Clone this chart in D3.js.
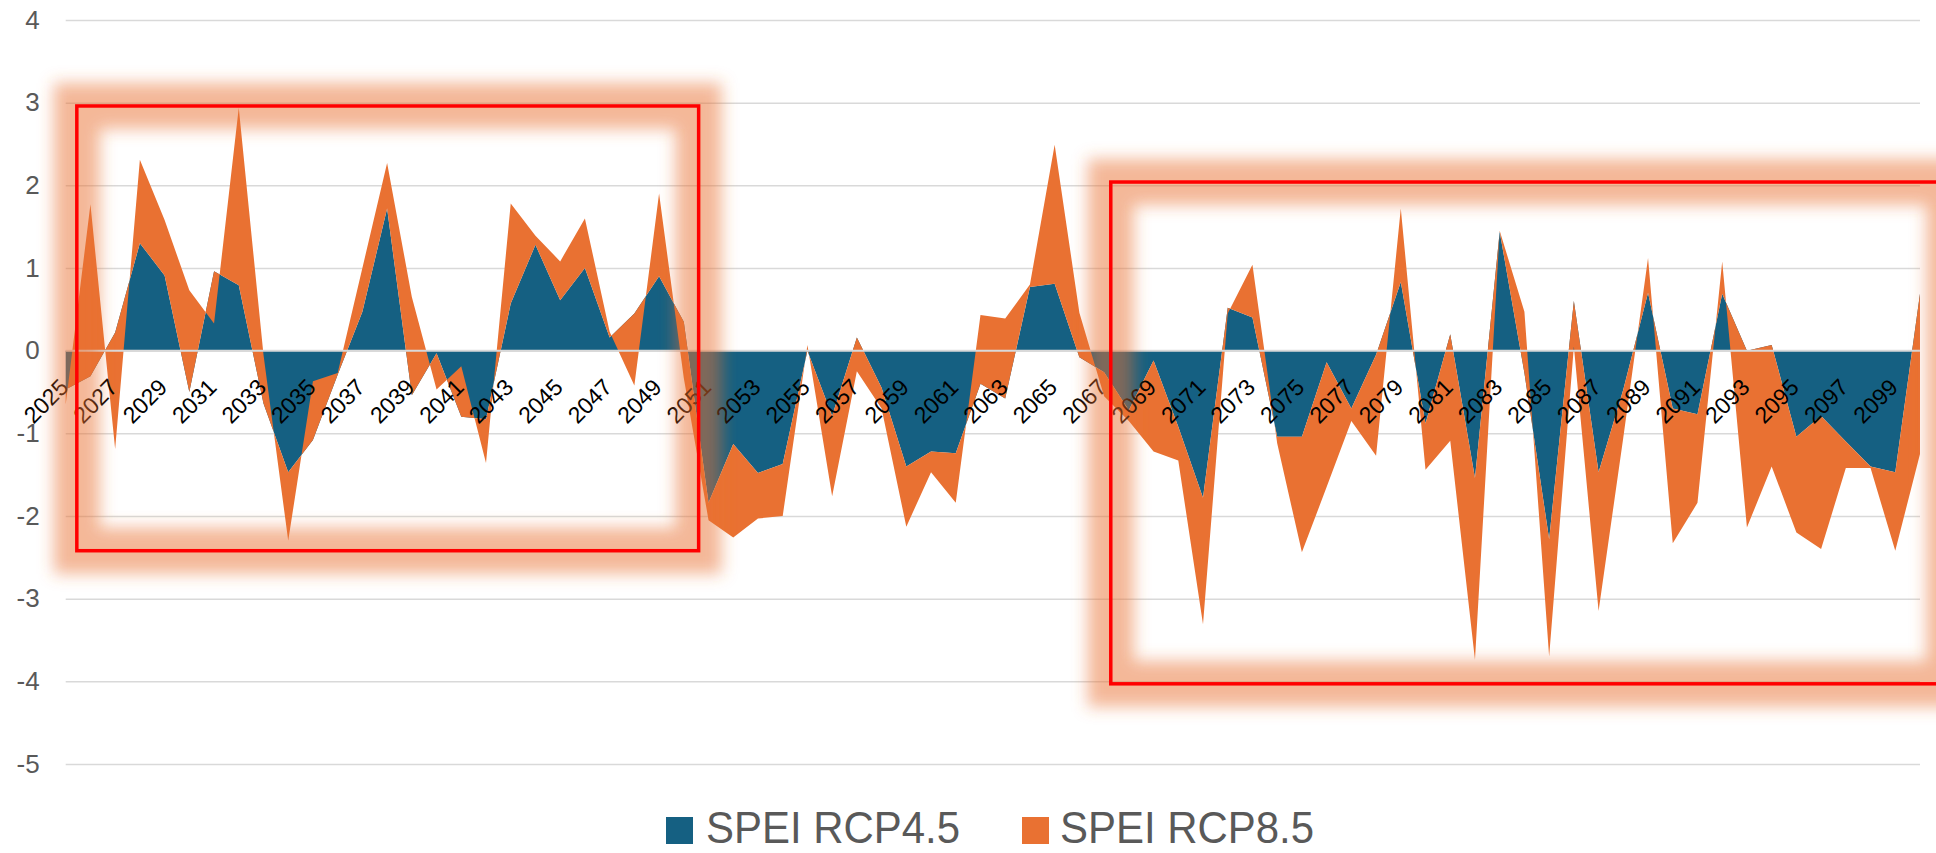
<!DOCTYPE html>
<html>
<head>
<meta charset="utf-8">
<script src="https://cdn.jsdelivr.net/npm/d3@7"></script>
<style>
  html, body { margin: 0; padding: 0; background: #ffffff; }
  svg { display: block; }
</style>
</head>
<body>
<svg id="chart" width="1936" height="853"></svg>
<script>
// Years on the category axis
const years = d3.range(2025, 2101);

// SPEI under RCP4.5 (first stacked series)
const rcp45 = [
  -0.47, -0.31, 0.22, 1.30, 0.91, -0.50, 0.96, 0.79, -0.64, -1.47,
  -1.08, -0.29, 0.47, 1.72, -0.54, -0.03, -0.80, -0.83, 0.57, 1.28,
  0.61, 1.00, 0.16, 0.45, 0.90, 0.35, -1.84, -1.13, -1.48, -1.37,
  0.00, -0.79, 0.16, -0.45, -1.40, -1.22, -1.24, -0.40, -0.58, 0.77,
  0.81, -0.08, -0.26, -0.72, -0.12, -0.92, -1.78, 0.52, 0.40, -1.04,
  -1.04, -0.14, -0.70, -0.05, 0.83, -0.88, 0.20, -1.54, 1.44, -0.27,
  -2.28, 0.60, -1.47, -0.47, 0.70, -0.70, -0.77, 0.69, 0.00, 0.07,
  -1.04, -0.79, -1.10, -1.40, -1.47, 0.69
];

// SPEI under RCP8.5 (second stacked series)
const rcp85 = [
  -0.18, 2.08, -1.41, 1.01, 0.67, 1.23, -0.63, 2.15, 0.59, -0.83,
  0.71, 0.02, 0.53, 0.55, 1.19, -0.44, 0.61, -0.53, 1.21, 0.11,
  0.47, 0.60, 0.07, -0.87, 1.00, -0.68, -0.21, -1.13, -0.55, -0.63,
  0.07, -0.97, -0.41, -0.25, -0.73, -0.25, -0.60, 0.83, 0.97, 0.03,
  1.68, 0.54, -0.29, -0.13, -1.10, -0.41, -1.53, -0.07, 0.64, -0.08,
  -1.40, -1.51, -0.15, -1.22, 0.89, -0.56, -1.29, -2.20, 0.01, 0.74,
  -1.42, -0.55, -1.68, -0.58, 0.42, -1.63, -1.07, 0.39, -2.14, -1.47,
  -1.16, -1.61, -0.32, -0.02, -0.95, -1.94
];

// Value axis ticks and labelled years
const yTicks = [4, 3, 2, 1, 0, -1, -2, -3, -4, -5];
const labelYears = years.filter(yr => (yr - 2025) % 2 === 0);

// Legend entries
const seriesKeys = ["rcp45", "rcp85"];
const seriesNames = ["SPEI RCP4.5", "SPEI RCP8.5"];

// Highlighted periods: [startYear, endYear, topValue, bottomValue]
const highlightEarly = [2025.45, 2050.6, 2.96, -2.42];
const highlightLate = [2067.27, 2101.2, 2.04, -4.03];

// ---- styling ----
const colors = { rcp45: "#156082", rcp85: "#E97132" };
const gridColor = "#d9d9d9";
const labelGrey = "#595959";

const svg = d3.select("#chart");

const x = d3.scaleLinear().domain([2025, 2100]).range([65.7, 1920]);
const y = d3.scaleLinear().domain([-5, 4]).range([764, 20]);

// Glow used around the highlight frames
const defs = svg.append("defs");
defs.append("filter")
  .attr("id", "soft-glow")
  .attr("filterUnits", "userSpaceOnUse")
  .attr("x", -100).attr("y", -100).attr("width", 2200).attr("height", 1100)
  .append("feGaussianBlur").attr("stdDeviation", 8);

// Plain hyphen-minus labels
const plainNumber = d => String(d);

// Horizontal gridlines + value labels
const yAxis = d3.axisLeft(y)
  .tickValues(yTicks)
  .tickFormat(plainNumber)
  .tickSize(-(x.range()[1] - x.range()[0]))
  .tickPadding(26);

const gy = svg.append("g")
  .attr("transform", `translate(${x.range()[0]},0)`)
  .call(yAxis);
gy.select(".domain").remove();
gy.selectAll(".tick line")
  .attr("stroke", gridColor)
  .attr("stroke-width", 1.5);
gy.selectAll(".tick text")
  .attr("fill", labelGrey)
  .style("font-family", "'Liberation Sans', Arial, sans-serif")
  .style("font-size", "26px");

// Stacked areas: running sum of both series, no sign split
const table = years.map((yr, i) => ({ year: yr, rcp45: rcp45[i], rcp85: rcp85[i] }));
const layers = d3.stack()
  .keys(seriesKeys)
  .order(d3.stackOrderNone)
  .offset(d3.stackOffsetNone)(table);

const area = d3.area()
  .x(d => x(d.data.year))
  .y0(d => y(d[0]))
  .y1(d => y(d[1]));

svg.append("g")
  .selectAll("path")
  .data(layers)
  .join("path")
  .attr("d", area)
  .attr("fill", d => colors[d.key]);

// Category axis line at zero
svg.append("line")
  .attr("x1", x.range()[0]).attr("x2", x.range()[1])
  .attr("y1", y(0)).attr("y2", y(0))
  .attr("stroke", gridColor)
  .attr("stroke-width", 2);

// Year labels, rotated, hanging from the zero line
const xAxis = d3.axisBottom(x)
  .tickValues(labelYears)
  .tickFormat(plainNumber)
  .tickSize(0);

const gx = svg.append("g")
  .attr("transform", `translate(0,${y(0)})`)
  .call(xAxis);
gx.select(".domain").remove();
gx.selectAll(".tick text")
  .attr("x", 0).attr("y", 0).attr("dy", 0)
  .attr("transform", "translate(3.5,38) rotate(-45)")
  .attr("text-anchor", "end")
  .attr("fill", "#000000")
  .style("font-family", "'Liberation Sans', Arial, sans-serif")
  .style("font-size", "23px");

// Highlight frames with an orange glow
function frame(spec) {
  const [y0, y1, vTop, vBottom] = spec;
  const rx = x(y0), ry = y(vTop), rw = x(y1) - x(y0), rh = y(vBottom) - y(vTop);
  const g = svg.append("g");
  g.append("rect")
    .attr("x", rx).attr("y", ry).attr("width", rw).attr("height", rh)
    .attr("fill", "none")
    .attr("stroke", "#E97132")
    .attr("stroke-width", 46)
    .attr("stroke-opacity", 0.5)
    .attr("filter", "url(#soft-glow)");
  g.append("rect")
    .attr("x", rx).attr("y", ry).attr("width", rw).attr("height", rh)
    .attr("fill", "none")
    .attr("stroke", "#ff0000")
    .attr("stroke-width", 3.5);
}
frame(highlightEarly);
frame(highlightLate);

// Legend
const legendItems = [
  { key: "rcp45", name: seriesNames[0], sx: 666, tx: 706 },
  { key: "rcp85", name: seriesNames[1], sx: 1022, tx: 1060 }
];
const lg = svg.append("g");
legendItems.forEach(it => {
  lg.append("rect")
    .attr("x", it.sx).attr("y", 817)
    .attr("width", 27).attr("height", 27)
    .attr("fill", colors[it.key]);
  lg.append("text")
    .attr("x", it.tx).attr("y", 843)
    .attr("fill", labelGrey)
    .attr("textLength", 254)
    .attr("lengthAdjust", "spacingAndGlyphs")
    .style("font-family", "'Liberation Sans Narrow', 'Arial Narrow', 'Liberation Sans', Arial, sans-serif")
    .style("font-size", "44px")
    .text(it.name);
});
</script>
</body>
</html>
